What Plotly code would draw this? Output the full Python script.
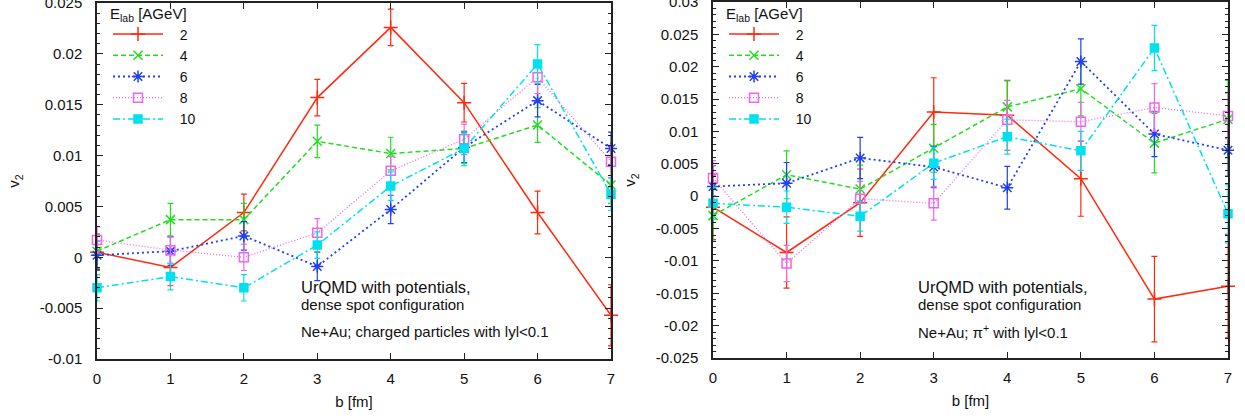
import plotly.graph_objects as go

# ---------------- data ----------------
b_fm = [0, 1, 2, 3, 4, 5, 6, 7]
energies = ["2", "4", "6", "8", "10"]

# Left panel: charged particles, |y|<0.1
ch_2 = [0.0005, -0.0010, 0.0044, 0.0157, 0.0226, 0.0152, 0.0044, -0.0057]
ch_2_err = [0.0018, 0.0018, 0.0018, 0.0018, 0.0018, 0.0019, 0.0021, 0.0030]
ch_4 = [0.0006, 0.0037, 0.0037, 0.0114, 0.0102, 0.0107, 0.0130, 0.0071]
ch_4_err = [0.0017, 0.0016, 0.0016, 0.0016, 0.0016, 0.0017, 0.0017, 0.0018]
ch_6 = [0.0002, 0.0006, 0.0021, -0.0009, 0.0047, 0.0108, 0.0154, 0.0107]
ch_6_err = [0.0014, 0.0014, 0.0014, 0.0014, 0.0014, 0.0015, 0.0016, 0.0016]
ch_8 = [0.0017, 0.0007, 0.0000, 0.0024, 0.0085, 0.0116, 0.0177, 0.0094]
ch_8_err = [0.0013, 0.0013, 0.0013, 0.0014, 0.0014, 0.0015, 0.0016, 0.0016]
ch_10 = [-0.0030, -0.0019, -0.0030, 0.0012, 0.0070, 0.0107, 0.0190, 0.0062]
ch_10_err = [0.0013, 0.0013, 0.0013, 0.0013, 0.0014, 0.0015, 0.0019, 0.0016]

# Right panel: pi+, |y|<0.1
pi_2 = [-0.0017, -0.0087, -0.0010, 0.0130, 0.0125, 0.0027, -0.0159, -0.0139]
pi_2_err = [0.0050, 0.0055, 0.0052, 0.0053, 0.0054, 0.0058, 0.0066, 0.0080]
pi_4 = [-0.0030, 0.0033, 0.0011, 0.0074, 0.0138, 0.0166, 0.0082, 0.0119]
pi_4_err = [0.0040, 0.0037, 0.0037, 0.0037, 0.0040, 0.0042, 0.0046, 0.0060]
pi_6 = [0.0015, 0.0020, 0.0059, 0.0045, 0.0013, 0.0208, 0.0096, 0.0071]
pi_6_err = [0.0032, 0.0032, 0.0032, 0.0032, 0.0033, 0.0035, 0.0035, 0.0040]
pi_8 = [0.0028, -0.0104, -0.0004, -0.0011, 0.0118, 0.0115, 0.0137, 0.0124]
pi_8_err = [0.0027, 0.0028, 0.0027, 0.0026, 0.0030, 0.0030, 0.0037, 0.0035]
pi_10 = [-0.0011, -0.0017, -0.0031, 0.0051, 0.0092, 0.0070, 0.0229, -0.0027]
pi_10_err = [0.0025, 0.0025, 0.0023, 0.0025, 0.0027, 0.0030, 0.0035, 0.0045]

left_ticks = [-0.01, -0.005, 0, 0.005, 0.01, 0.015, 0.02, 0.025]
left_ticktext = ["-0.01", "-0.005", "0", "0.005", "0.01", "0.015", "0.02", "0.025"]
right_ticks = [-0.025, -0.02, -0.015, -0.01, -0.005, 0, 0.005, 0.01, 0.015, 0.02, 0.025, 0.03]
right_ticktext = ["-0.025", "-0.02", "-0.015", "-0.01", "-0.005", "0", "0.005",
                  "0.01", "0.015", "0.02", "0.025", "0.03"]

# ---------------- styles ----------------
colors = ["#ff2a0e", "#22dd22", "#2040f0", "#ee66ee", "#00e0ee"]
dashes = ["solid", "5px,3px", "2px,3px", "1px,2px", "7px,3px,2px,3px"]
widths = [1.5, 1.5, 1.8, 1.3, 1.5]
symbols = ["cross-thin", "x-thin", "asterisk", "square-open", "square"]
sizes = [10, 9, 10, 9, 8]

FONT = "Liberation Sans, Arial, sans-serif"
TXT = "#111111"
PAD = "\u00a0\u00a0\u00a0"

fig = go.Figure()

left_sets = [(ch_2, ch_2_err), (ch_4, ch_4_err), (ch_6, ch_6_err), (ch_8, ch_8_err), (ch_10, ch_10_err)]
right_sets = [(pi_2, pi_2_err), (pi_4, pi_4_err), (pi_6, pi_6_err), (pi_8, pi_8_err), (pi_10, pi_10_err)]

for panel, sets in enumerate([left_sets, right_sets]):
    for i, (vals, errs) in enumerate(sets):
        c = colors[i]
        fig.add_trace(go.Scatter(
            x=b_fm, y=vals,
            error_y=dict(type="data", array=errs, visible=True, color=c, thickness=1.2, width=3),
            mode="lines+markers",
            name=PAD + energies[i],
            line=dict(color=c, width=widths[i], dash=dashes[i]),
            marker=dict(symbol=symbols[i], size=sizes[i], color=c,
                        line=dict(color=c, width=1.5)),
            xaxis="x" if panel == 0 else "x2",
            yaxis="y" if panel == 0 else "y2",
            legend="legend" if panel == 0 else "legend2",
            cliponaxis=False,
        ))

W, H = 1245, 419
lx0, lx1 = 97 / W, 611 / W
rx0, rx1 = 713 / W, 1228 / W
ly0, ly1 = 1 - 359 / H, 1 - 3 / H
ry0, ry1 = 1 - 358 / H, 1 - 2 / H

axis_common = dict(
    showline=True, linecolor="#222222", linewidth=1.5, mirror="ticks",
    ticks="inside", ticklen=6, tickcolor="#222222", tickwidth=1,
    showgrid=False, zeroline=False, automargin=False,
    tickfont=dict(family=FONT, size=15, color=TXT),
    ticklabeloverflow="allow",
)

xaxis_common = dict(axis_common, range=[0, 7], tickvals=b_fm, ticklabelstandoff=5,
                    title=dict(text="b [fm]", font=dict(family=FONT, size=15, color=TXT), standoff=11))

yminor = dict(dtick=0.001, ticks="inside", ticklen=3, tickcolor="#222222", showgrid=False)
ytitle = dict(text="v<sub>2</sub>", font=dict(family=FONT, size=15, color=TXT), standoff=16)

leg_common = dict(
    xanchor="left", yanchor="top",
    bgcolor="rgba(0,0,0,0)", font=dict(family=FONT, size=14, color=TXT),
    title=dict(text="E<sub>lab</sub> [AGeV]", font=dict(family=FONT, size=15, color=TXT)),
    itemwidth=50, tracegroupgap=0,
)

fig.update_layout(
    width=W, height=H,
    margin=dict(l=0, r=0, t=0, b=0, autoexpand=False),
    paper_bgcolor="white", plot_bgcolor="white",
    font=dict(family=FONT, color=TXT),
    xaxis=dict(xaxis_common, domain=[lx0, lx1], anchor="y"),
    xaxis2=dict(xaxis_common, domain=[rx0, rx1], anchor="y2"),
    yaxis=dict(axis_common, domain=[ly0, ly1], anchor="x", range=[-0.01, 0.025],
               tickvals=left_ticks, ticktext=left_ticktext, minor=yminor,
               ticklabelstandoff=10, title=ytitle),
    yaxis2=dict(axis_common, domain=[ry0, ry1], anchor="x2", range=[-0.025, 0.03],
                tickvals=right_ticks, ticktext=right_ticktext, minor=yminor,
                ticklabelstandoff=10, title=ytitle),
    legend=dict(leg_common, x=108 / W, y=1 + 1 / H),
    legend2=dict(leg_common, x=724 / W, y=1 + 1 / H),
    showlegend=True,
)

ann_big = dict(family=FONT, size=16.5, color=TXT)
ann_small = dict(family=FONT, size=15, color=TXT)
for x0, third in [(299 / W, "Ne+Au; charged particles with lyl<0.1"),
                  (916 / W, "Ne+Au; π<sup>+</sup> with lyl<0.1")]:
    fig.add_annotation(x=x0, y=1 - 287 / H, xref="paper", yref="paper", text="UrQMD with potentials,",
                       showarrow=False, xanchor="left", yanchor="middle", font=ann_big)
    fig.add_annotation(x=x0, y=1 - 304 / H, xref="paper", yref="paper", text="dense spot configuration",
                       showarrow=False, xanchor="left", yanchor="middle", font=ann_small)
    fig.add_annotation(x=x0, y=1 - 331 / H, xref="paper", yref="paper", text=third,
                       showarrow=False, xanchor="left", yanchor="middle", font=ann_small)

fig.write_html("out.html",
               config={"displayModeBar": False},
               post_script="document.body.style.margin='0';document.body.style.padding='0';")
